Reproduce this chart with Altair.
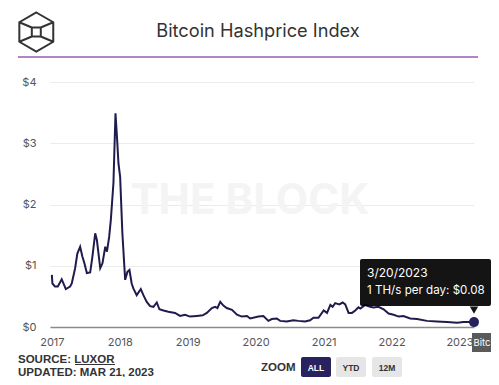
import altair as alt
import pandas as pd

dates = [
    "2017-01-01", "2017-01-04", "2017-01-18", "2017-02-02", "2017-02-23", "2017-03-17",
    "2017-04-09", "2017-04-18", "2017-05-06", "2017-05-18", "2017-06-02", "2017-06-14",
    "2017-06-25", "2017-07-08", "2017-07-26", "2017-08-07", "2017-08-22", "2017-08-31",
    "2017-09-18", "2017-09-30", "2017-10-15", "2017-10-24", "2017-11-05", "2017-11-14",
    "2017-11-28", "2017-12-09", "2017-12-18", "2017-12-25", "2018-01-03", "2018-01-15",
    "2018-01-30", "2018-02-11", "2018-02-22", "2018-03-06", "2018-03-15", "2018-04-02",
    "2018-04-24", "2018-05-08", "2018-05-26", "2018-06-13", "2018-07-01", "2018-07-19",
    "2018-08-02", "2018-08-24", "2018-09-19", "2018-10-25", "2018-11-21", "2018-12-18",
    "2019-01-14", "2019-02-19", "2019-03-23", "2019-04-14", "2019-05-11", "2019-05-29",
    "2019-06-10", "2019-06-25", "2019-07-12", "2019-07-30", "2019-08-27", "2019-09-23",
    "2019-10-19", "2019-11-16", "2019-12-03", "2020-01-16", "2020-02-12", "2020-03-10",
    "2020-03-28", "2020-04-24", "2020-05-12", "2020-06-17", "2020-07-22", "2020-08-18",
    "2020-09-23", "2020-10-20", "2020-11-07", "2020-12-04", "2021-01-01", "2021-01-19",
    "2021-02-06", "2021-02-18", "2021-03-04", "2021-03-26", "2021-04-13", "2021-04-27",
    "2021-05-15", "2021-06-02", "2021-06-20", "2021-07-07", "2021-07-17", "2021-08-12",
    "2021-09-08", "2021-09-26", "2021-10-23", "2021-11-19", "2021-12-16", "2022-01-12",
    "2022-02-08", "2022-03-06", "2022-04-11", "2022-05-18", "2022-07-10", "2022-09-02",
    "2022-10-26", "2022-12-19", "2023-01-23", "2023-03-20",
]
values = [
    0.85, 0.71, 0.66, 0.66, 0.78, 0.62,
    0.66, 0.71, 0.96, 1.20, 1.31, 1.15,
    1.04, 0.88, 0.89, 1.15, 1.53, 1.42,
    0.96, 1.04, 1.31, 1.23, 1.47, 1.75,
    2.35, 3.49, 3.05, 2.67, 2.45, 1.53,
    0.77, 0.90, 0.93, 0.71, 0.63, 0.52,
    0.62, 0.52, 0.41, 0.34, 0.33, 0.40,
    0.29, 0.27, 0.25, 0.23, 0.18, 0.20,
    0.17, 0.18, 0.19, 0.23, 0.31, 0.33,
    0.31, 0.41, 0.35, 0.31, 0.28, 0.20,
    0.17, 0.18, 0.14, 0.17, 0.18, 0.10,
    0.13, 0.14, 0.10, 0.09, 0.11, 0.10,
    0.09, 0.11, 0.15, 0.15, 0.27, 0.23,
    0.36, 0.33, 0.39, 0.37, 0.40, 0.37,
    0.23, 0.23, 0.27, 0.32, 0.30, 0.36,
    0.33, 0.32, 0.33, 0.29, 0.22, 0.20,
    0.17, 0.18, 0.14, 0.13, 0.10, 0.09,
    0.08, 0.07, 0.08, 0.08,
]
y_ticks = [0, 1, 2, 3, 4]
x_years = [2017, 2018, 2019, 2020, 2021, 2022, 2023]

title_text = "Bitcoin Hashprice Index"
tip_date = "3/20/2023"
tip_label = "1 TH/s per day: $0.08"
source_lines = ["SOURCE: LUXOR", "UPDATED: MAR 21, 2023"]
zoom_buttons = ["ALL", "YTD", "12M"]

df = pd.DataFrame({"date": pd.to_datetime(dates), "value": values})
last = df.tail(1)
one = pd.DataFrame({"k": [0]})

W, H = 424, 245
NAVY = "#1f1c4d"

x_scale = alt.Scale(domain=[alt.DateTime(year=2016, month=12, date=22),
                            alt.DateTime(year=2023, month=3, date=20)])
y_scale = alt.Scale(domain=[0, 4])

x_enc = alt.X("date:T", scale=x_scale, axis=alt.Axis(
    title=None, format="%Y", values=[alt.DateTime(year=y, month=1, date=1) for y in x_years],
    grid=False, ticks=False, domain=True, domainColor="#8a8a8a", domainWidth=1.5,
    labelPadding=9, labelFontSize=11, labelColor="#555", labelFont="Inter"))
y_enc = alt.Y("value:Q", scale=y_scale, axis=alt.Axis(
    title=None, values=y_ticks, labelExpr="'$' + datum.value", grid=True,
    gridColor="#ececec", ticks=False, domain=False, labelPadding=14,
    labelFontSize=11, labelColor="#555", labelFont="Inter"))

watermark = alt.Chart(one).mark_text(
    text="THE BLOCK", font="Inter", fontSize=42, fontWeight="bold", color="#f4f4f4",
    align="center", baseline="middle").encode(x=alt.value(200), y=alt.value(119))

line = alt.Chart(df).mark_line(color=NAVY, strokeWidth=2).encode(x=x_enc, y=y_enc)

dot = alt.Chart(last).mark_point(filled=True, size=100, color="#24215f", opacity=1).encode(
    x="date:T", y="value:Q")

tip_box = alt.Chart(last).mark_rect(
    color="#000", opacity=0.92, cornerRadius=2,
    xOffset=-114, x2Offset=17, yOffset=-63, y2Offset=-16).encode(
    x="date:T", x2="date:T", y="value:Q", y2="value:Q")
tip_arrow = alt.Chart(last).mark_point(
    shape="triangle-down", filled=True, size=70, color="#000", opacity=0.92, yOffset=-12).encode(
    x="date:T", y="value:Q")
tip_t1 = alt.Chart(last).mark_text(
    text=tip_date, color="white", font="Inter", fontSize=12, align="left",
    baseline="alphabetic", dx=-107, dy=-45).encode(x="date:T", y="value:Q")
tip_t2 = alt.Chart(last).mark_text(
    text=tip_label, color="white", font="Inter", fontSize=11.6, align="left",
    baseline="alphabetic", dx=-107, dy=-28).encode(x="date:T", y="value:Q")

series_box = alt.Chart(one).mark_rect(color="#5a5a5a").encode(
    x=alt.value(422), x2=alt.value(452), y=alt.value(251), y2=alt.value(270))
series_text = alt.Chart(one).mark_text(
    text="Bitc", color="white", font="Inter", fontSize=9.5, align="left",
    baseline="middle").encode(x=alt.value(423.5), y=alt.value(260.5))

title = alt.Chart(one).mark_text(
    text=title_text, font="Inter", fontSize=18.2, color="#333", align="center",
    baseline="middle").encode(x=alt.value(208), y=alt.value(-50))
rule = alt.Chart(one).mark_rule(color="#b084c7", strokeWidth=2).encode(
    x=alt.value(-32), x2=alt.value(428), y=alt.value(-25))
logo_path = ("M0,-1L0.87,-0.5L0.87,0.5L0,1L-0.87,0.5L-0.87,-0.5Z"
             "M-0.23,-0.23L0.23,-0.23L0.23,0.23L-0.23,0.23Z"
             "M-0.87,-0.5L-0.23,-0.23M0.87,-0.5L0.23,-0.23"
             "M-0.23,0.23L-0.87,0.5M0.23,0.23L0.87,0.5")
logo = alt.Chart(one).mark_point(
    shape=logo_path, size=1521, filled=False, stroke="#333", strokeWidth=2, opacity=1).encode(
    x=alt.value(-13.7), y=alt.value(-50))

src1 = alt.Chart(one).mark_text(
    text=source_lines[0], font="Liberation Sans", fontSize=11.5, fontWeight="bold",
    color="#333", align="left", baseline="alphabetic").encode(x=alt.value(-32), y=alt.value(281))
src_ul = alt.Chart(one).mark_rule(color="#333", strokeWidth=1).encode(
    x=alt.value(25), x2=alt.value(65), y=alt.value(282.5))
src2 = alt.Chart(one).mark_text(
    text=source_lines[1], font="Liberation Sans", fontSize=11.5, fontWeight="bold",
    color="#333", align="left", baseline="alphabetic").encode(x=alt.value(-32), y=alt.value(294))

zoom_lbl = alt.Chart(one).mark_text(
    text="ZOOM", font="Liberation Sans", fontSize=11.5, fontWeight="bold",
    color="#333", align="left", baseline="middle").encode(x=alt.value(211), y=alt.value(285.5))

btn_layers = []
btn_x = [251, 286, 322]
for i, lbl in enumerate(zoom_buttons):
    fill = "#28225f" if i == 0 else "#e6e6e6"
    tcol = "white" if i == 0 else "#333"
    btn_layers.append(alt.Chart(one).mark_rect(color=fill, cornerRadius=2).encode(
        x=alt.value(btn_x[i]), x2=alt.value(btn_x[i] + 30), y=alt.value(275), y2=alt.value(295)))
    btn_layers.append(alt.Chart(one).mark_text(
        text=lbl, font="Liberation Sans", fontSize=8.5, fontWeight="bold", color=tcol,
        align="center", baseline="middle").encode(x=alt.value(btn_x[i] + 15), y=alt.value(285.5)))

chart = alt.layer(
    watermark, line, dot, tip_box, tip_arrow, tip_t1, tip_t2, series_box, series_text,
    title, rule, logo, src1, src_ul, src2, zoom_lbl, *btn_layers
).properties(
    width=W, height=H,
    autosize=alt.AutoSizeParams(type="none"),
    padding={"left": 42, "top": 74, "right": 17, "bottom": 50},
    background="white",
).configure_view(stroke=None)

chart.save("out.html", embed_options={"renderer": "svg", "actions": False})
